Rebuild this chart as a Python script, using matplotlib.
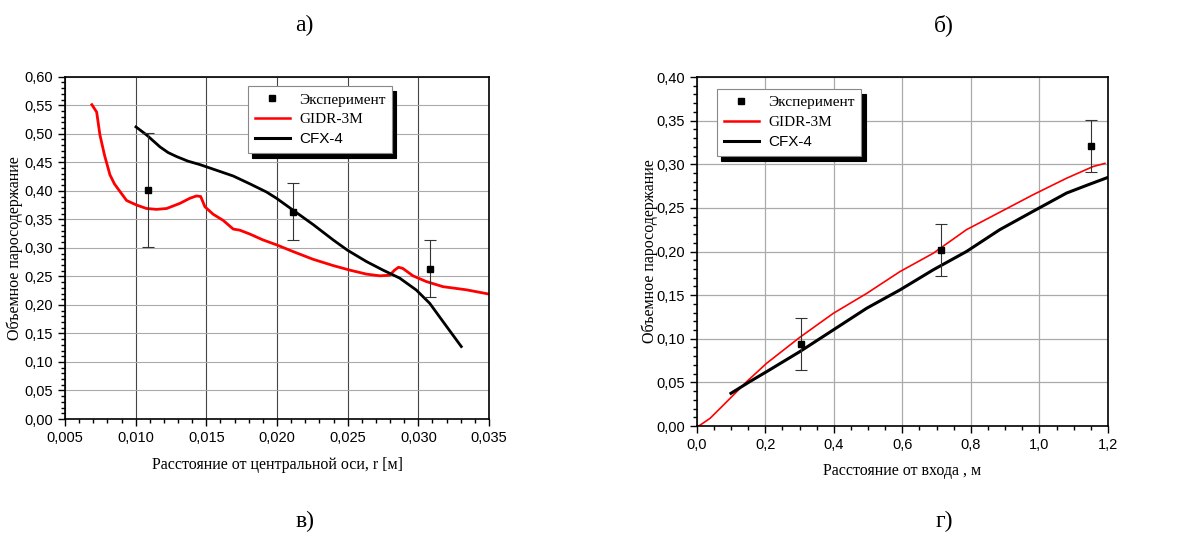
import matplotlib
matplotlib.use('Agg')
import matplotlib.pyplot as plt
import numpy as np
from matplotlib.ticker import MultipleLocator, FuncFormatter
from matplotlib.lines import Line2D

# panel a) - radial profile
r_gidr = [0.0069, 0.00724, 0.00747, 0.0078, 0.00818, 0.0085, 0.0090, 0.00936, 0.01007, 0.01077, 0.01148, 0.01219,
          0.01313, 0.01384, 0.0143, 0.0146, 0.0149, 0.01548, 0.0162, 0.0169, 0.01737, 0.0181,
          0.0190, 0.0200, 0.02114, 0.02255, 0.02397, 0.02515, 0.02633, 0.02727, 0.02797, 0.02832,
          0.0286, 0.0289, 0.02962, 0.03056, 0.03174, 0.03339, 0.0350]
a_gidr = [0.551, 0.538, 0.498, 0.462, 0.428, 0.412, 0.395, 0.383, 0.375, 0.369, 0.3675, 0.369,
          0.378, 0.387, 0.391, 0.390, 0.372, 0.359, 0.348, 0.333, 0.331, 0.324,
          0.314, 0.305, 0.2935, 0.280, 0.269, 0.261, 0.254, 0.251, 0.252, 0.261,
          0.266, 0.264, 0.251, 0.241, 0.232, 0.2265, 0.219]
r_cfx = [0.01002, 0.01077, 0.01172, 0.0123, 0.0129, 0.0137, 0.01454, 0.01572, 0.0169, 0.0181, 0.01925, 0.01996,
         0.02114, 0.02255, 0.02397, 0.02498, 0.02633, 0.0275, 0.02868, 0.02986, 0.0308, 0.03174, 0.03304]
a_cfx = [0.512, 0.498, 0.477, 0.467, 0.460, 0.452, 0.446, 0.436, 0.426, 0.412, 0.398, 0.387,
         0.366, 0.341, 0.314, 0.296, 0.276, 0.261, 0.247, 0.226, 0.203, 0.171, 0.127]
r_exp = [0.01089, 0.02116, 0.0308]
a_exp = [0.4015, 0.3635, 0.263]
a_err = [0.10, 0.05, 0.05]

# panel b) - along the channel
z_gidr = [0.006, 0.039, 0.078, 0.146, 0.204, 0.301, 0.398, 0.496, 0.593, 0.690,
          0.787, 0.884, 0.981, 1.079, 1.157, 1.191]
b_gidr = [0.0, 0.0088, 0.024, 0.0509, 0.0719, 0.1017, 0.129, 0.152, 0.177, 0.198,
          0.225, 0.245, 0.265, 0.284, 0.2975, 0.301]
z_cfx = [0.10, 0.155, 0.204, 0.301, 0.398, 0.496, 0.593, 0.690, 0.787, 0.884,
         0.981, 1.079, 1.142, 1.20]
b_cfx = [0.0375, 0.0509, 0.0623, 0.0853, 0.110, 0.135, 0.156, 0.179, 0.200, 0.225,
         0.246, 0.267, 0.2765, 0.285]
z_exp = [0.304, 0.714, 1.150]
b_exp = [0.0937, 0.202, 0.321]
b_err = [0.03, 0.03, 0.03]

labels = ['Эксперимент', 'GIDR-3M', 'CFX-4']
ylab = 'Объемное паросодержание'


def comma(nd):
    return FuncFormatter(lambda v, p: f'{v:.{nd}f}'.replace('.', ','))


def style_axes(ax, xnd):
    ax.tick_params(which='both', direction='out', top=False, right=False,
                   labelsize=10.5, labelfontfamily='Liberation Sans')
    ax.tick_params(which='major', length=5, width=1)
    ax.tick_params(which='minor', length=3, width=1)
    ax.xaxis.set_major_formatter(comma(xnd))
    ax.yaxis.set_major_formatter(comma(2))
    for s in ax.spines.values():
        s.set_linewidth(1.2)


def add_legend(ax, bbox):
    h = [Line2D([], [], ls='none', marker='s', ms=4, color='black'),
         Line2D([], [], color='red', lw=1.8),
         Line2D([], [], color='black', lw=2.2)]
    leg = ax.legend(h, labels, loc='upper left', bbox_to_anchor=bbox, fancybox=False,
                    shadow={'ox': 3, 'oy': -3.5, 'color': 'black', 'alpha': 1},
                    edgecolor='#888888', framealpha=1, fontsize=11, handlelength=2.3,
                    handletextpad=0.6, borderpad=0.45, labelspacing=0.4, borderaxespad=0)
    leg.get_frame().set_linewidth(0.8)
    t = leg.get_texts()
    t[0].set_fontfamily('Liberation Serif')
    t[1].set_fontfamily('Liberation Serif')
    t[2].set_fontfamily('Liberation Sans')
    return leg


fig = plt.figure(figsize=(11.95, 5.35), dpi=100)

ax1 = fig.add_axes([0.0544, 0.2168, 0.3548, 0.6398])
ax1.plot(r_gidr, a_gidr, color='red', lw=2)
ax1.plot(r_cfx, a_cfx, color='black', lw=2)
ax1.errorbar(r_exp, a_exp, yerr=a_err, fmt='s', ms=4, color='black', ecolor='#333333',
             elinewidth=0.8, capsize=4, capthick=0.8)
ax1.set_xlim(0.005, 0.035)
ax1.set_ylim(0, 0.6)
ax1.xaxis.set_major_locator(MultipleLocator(0.005))
ax1.xaxis.set_minor_locator(MultipleLocator(0.001))
ax1.yaxis.set_major_locator(MultipleLocator(0.05))
ax1.yaxis.set_minor_locator(MultipleLocator(0.01))
ax1.grid(axis='x', which='major', color='#444444', lw=0.8)
ax1.grid(axis='y', which='major', color='#aaaaaa', lw=0.8)
ax1.set_axisbelow(True)
style_axes(ax1, 3)
ax1.set_xlabel('Расстояние от центральной оси, r [м]', family='Liberation Serif', fontsize=11.5, labelpad=9)
ax1.set_ylabel(ylab, family='Liberation Serif', fontsize=11.5, labelpad=1)
add_legend(ax1, (0.431, 0.973))

ax2 = fig.add_axes([0.583, 0.2037, 0.3442, 0.6523])
ax2.plot(z_gidr, b_gidr, color='red', lw=1.2)
ax2.plot(z_cfx, b_cfx, color='black', lw=2.2)
ax2.errorbar(z_exp, b_exp, yerr=b_err, fmt='s', ms=4, color='black', ecolor='#333333',
             elinewidth=0.8, capsize=4, capthick=0.8)
ax2.set_xlim(0, 1.2)
ax2.set_ylim(0, 0.4)
ax2.xaxis.set_major_locator(MultipleLocator(0.2))
ax2.xaxis.set_minor_locator(MultipleLocator(0.05))
ax2.yaxis.set_major_locator(MultipleLocator(0.05))
ax2.yaxis.set_minor_locator(MultipleLocator(0.01))
ax2.grid(which='major', color='#aaaaaa', lw=0.9)
ax2.set_axisbelow(True)
style_axes(ax2, 1)
ax2.set_xlabel('Расстояние от входа , м', family='Liberation Serif', fontsize=11.5, labelpad=8)
ax2.set_ylabel(ylab, family='Liberation Serif', fontsize=11.5, labelpad=-1)
add_legend(ax2, (0.049, 0.966))

for x, y, s in [(0.255, 0.953, 'а)'), (0.79, 0.953, 'б)'), (0.255, 0.026, 'в)'), (0.79, 0.026, 'г)')]:
    fig.text(x, y, s, ha='center', va='center', fontsize=17, family='Liberation Serif')

fig.savefig('out.png', dpi=100)
